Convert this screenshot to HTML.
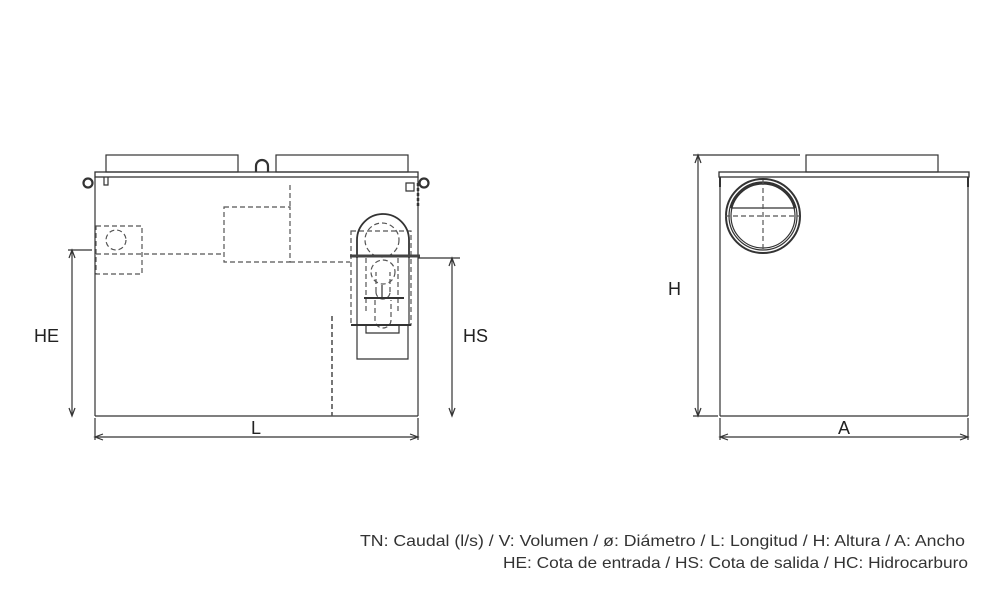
<!DOCTYPE html>
<html><head><meta charset="utf-8"><style>
html,body{margin:0;padding:0;background:#fff;}
svg{display:block;font-family:"Liberation Sans",sans-serif;}
</style></head><body>
<svg width="1000" height="600" viewBox="0 0 1000 600" xmlns="http://www.w3.org/2000/svg">
<g fill="none" stroke="#333" stroke-width="1.2">
<!-- LEFT VIEW -->
<rect x="106" y="155" width="132" height="17"/>
<rect x="276" y="155" width="132" height="17"/>
<path d="M256 172 v-6 a6 6 0 0 1 12 0 v6" stroke-width="2.2"/>
<rect x="95" y="172" width="323" height="5" stroke-width="1.3"/>
<line x1="95" y1="177" x2="95" y2="416"/>
<line x1="418" y1="177" x2="418" y2="416"/>
<line x1="95" y1="416" x2="418" y2="416"/>
<circle cx="88" cy="183" r="4.5" stroke-width="2.2"/>
<circle cx="424" cy="183" r="4.5" stroke-width="2.2"/>
<path d="M104 177 v8 h4 v-8"/>
<path d="M406 183 h8 v8 h-8z" />
<line x1="418" y1="183" x2="418" y2="208" stroke-width="2.5" stroke-dasharray="3 2"/>
<g stroke-dasharray="5 3" stroke="#555">
<rect x="96" y="226" width="46" height="48"/>
<circle cx="116" cy="240" r="10"/>
<line x1="96" y1="254" x2="224" y2="254"/>
<rect x="224" y="207" width="66" height="55"/>
<line x1="290" y1="185" x2="290" y2="207"/>
<line x1="290" y1="262" x2="350" y2="262"/>
<line x1="332" y1="316" x2="332" y2="416" stroke-width="1.6"/>
<rect x="351" y="231" width="60" height="94"/>
<circle cx="382" cy="240" r="17"/>
<circle cx="383" cy="272" r="12"/>
<path d="M366 258 v55 M398 258 v55"/>
<path d="M376 292 v-20 M390 292 v-20 M376 292 a7 7 0 0 0 14 0" />
<path d="M375 300 v20 a8 8 0 0 0 16 0 v-20"/>
</g>
<path d="M357 258 v-18 a26 26 0 0 1 52 0 v18" stroke-width="1.8"/>
<path d="M357 258 v66 M409 258 v66"/>
<line x1="350" y1="256" x2="420" y2="256" stroke-width="3" stroke="#444"/>
<line x1="364" y1="298" x2="404" y2="298" stroke-width="2"/>
<line x1="382" y1="285" x2="382" y2="298"/>
<line x1="351" y1="325" x2="411" y2="325" stroke-width="2"/>
<path d="M366 325 v8 h33 v-8"/>
<path d="M357 325 v34 h51 v-34"/>
<!-- dims left -->
<line x1="68" y1="250" x2="92" y2="250"/>
<line x1="72" y1="252" x2="72" y2="414"/>
<path d="M69 258 L72 250 L75 258 M69 408 L72 416 L75 408"/>
<line x1="418" y1="258" x2="460" y2="258"/>
<line x1="452" y1="260" x2="452" y2="414"/>
<path d="M449 266 L452 258 L455 266 M449 408 L452 416 L455 408"/>
<line x1="95" y1="418" x2="95" y2="440"/>
<line x1="418" y1="418" x2="418" y2="440"/>
<line x1="97" y1="437" x2="416" y2="437"/>
<path d="M103 434 L95 437 L103 440 M410 434 L418 437 L410 440"/>
<!-- RIGHT VIEW -->
<rect x="806" y="155" width="132" height="17"/>
<rect x="719" y="172" width="250" height="5" stroke-width="1.3"/>
<line x1="720" y1="177" x2="720" y2="416"/>
<line x1="968" y1="177" x2="968" y2="416"/>
<line x1="720" y1="416" x2="968" y2="416"/>
<path d="M720 177 v10 M968 177 v10" stroke-width="2"/>
<circle cx="763" cy="216" r="37" stroke-width="2"/>
<circle cx="763" cy="216" r="34"/>
<circle cx="763" cy="216" r="32"/>
<path d="M731 208 a33 33 0 0 1 64 0" stroke-width="2.5"/>
<line x1="731" y1="208" x2="795" y2="208"/>
<g stroke-dasharray="5 3" stroke="#555">
<line x1="725" y1="216" x2="800" y2="216"/>
<line x1="763" y1="180" x2="763" y2="252"/>
</g>
<line x1="693" y1="155" x2="800" y2="155"/>
<line x1="693" y1="416" x2="718" y2="416"/>
<line x1="698" y1="157" x2="698" y2="414"/>
<path d="M695 163 L698 155 L701 163 M695 408 L698 416 L701 408"/>
<line x1="720" y1="418" x2="720" y2="440"/>
<line x1="968" y1="418" x2="968" y2="440"/>
<line x1="722" y1="437" x2="966" y2="437"/>
<path d="M728 434 L720 437 L728 440 M960 434 L968 437 L960 440"/>
</g>
<g fill="#222" font-size="18">
<text x="34" y="342">HE</text>
<text x="463" y="342">HS</text>
<text x="668" y="295">H</text>
<text x="251" y="434">L</text>
<text x="838" y="434">A</text>
</g>
<g fill="#333" font-size="16">
<text x="360" y="546" textLength="605" lengthAdjust="spacingAndGlyphs">TN: Caudal (l/s) / V: Volumen / ø: Diámetro / L: Longitud / H: Altura / A: Ancho</text>
<text x="503" y="568" textLength="465" lengthAdjust="spacingAndGlyphs">HE: Cota de entrada / HS: Cota de salida / HC: Hidrocarburo</text>
</g>
</svg>
</body></html>
